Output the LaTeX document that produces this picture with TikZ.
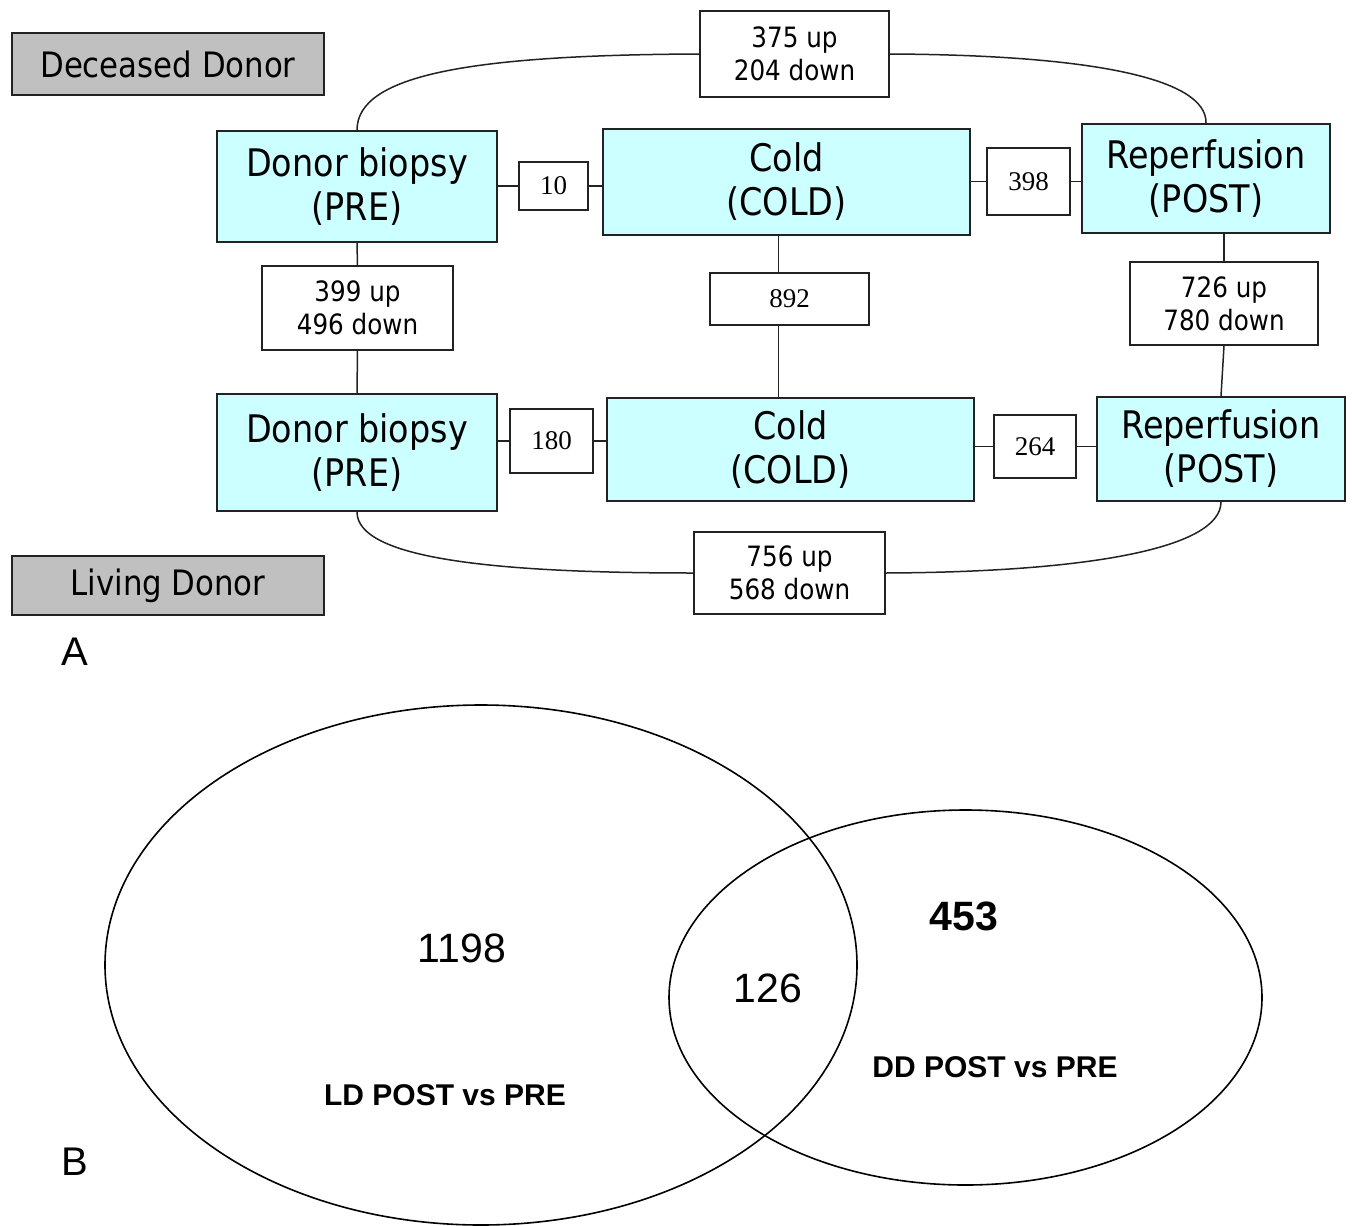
\documentclass[tikz,border=0pt]{standalone}
\usepackage{fontspec}
\newfontfamily\tah{DejaVu Sans}[FakeStretch=0.88]
\newfontfamily\ser{Liberation Serif}
\newfontfamily\ari{Liberation Sans}
\definecolor{cyanbox}{HTML}{CCFFFF}
\definecolor{graybox}{HTML}{C0C0C0}
\definecolor{edge}{HTML}{222222}
\tikzset{
  stage/.style={draw=edge, line width=1.8pt, fill=cyanbox, inner sep=0pt, align=center,
    font=\tah\fontsize{38}{44}\selectfont},
  donor/.style={draw=edge, line width=1.8pt, fill=graybox, inner sep=0pt, align=center,
    font=\tah\fontsize{35}{38}\selectfont},
  countbox/.style={draw=edge, line width=1.6pt, fill=white, inner sep=0pt, align=center,
    font=\tah\fontsize{28}{33}\selectfont},
  numbox/.style={draw=edge, line width=1.6pt, fill=white, inner sep=0pt, align=center,
    font=\ser\fontsize{27}{30}\selectfont},
  conn/.style={draw=edge, line width=1.5pt},
  venn/.style={draw=black, line width=1.6pt},
  vtext/.style={font=\ari\fontsize{41}{44}\selectfont, inner sep=0pt},
  vlabel/.style={font=\ari\bfseries\fontsize{30}{32}\selectfont, inner sep=0pt},
  panel/.style={font=\ari\fontsize{40}{44}\selectfont, inner sep=0pt}
}
\begin{document}
\begin{tikzpicture}[x=1pt,y=-1pt]
\useasboundingbox (0,0) rectangle (1352,1226);
% donor labels
\node[donor, minimum width=312, minimum height=62] (dd) at (168,64) {Deceased Donor};
\node[donor, minimum width=312, minimum height=59] (ld) at (168,585.5) {Living Donor};
\node[panel] (pa) at (75,652) {A};
\node[panel] (pb) at (75,1162) {B};
% top row (deceased donor)
\node[stage, minimum width=280, minimum height=111] (dd1) at (357,186.5) {Donor biopsy\\(PRE)};
\node[stage, minimum width=367, minimum height=106] (cold1) at (786.5,182) {Cold\\(COLD)};
\node[stage, minimum width=248, minimum height=109] (rep1) at (1206,178.5) {Reperfusion\\(POST)};
\node[numbox, minimum width=69, minimum height=48] (n10) at (553.5,186) {10};
\node[numbox, minimum width=83, minimum height=67] (n398) at (1028.5,181.5) {398};
\node[countbox, minimum width=189, minimum height=86] (top) at (794.5,54) {375 up\\204 down};
% bottom row (living donor)
\node[stage, minimum width=280, minimum height=117] (dd2) at (357,452.5) {Donor biopsy\\(PRE)};
\node[stage, minimum width=367, minimum height=103] (cold2) at (790.5,449.5) {Cold\\(COLD)};
\node[stage, minimum width=248, minimum height=104] (rep2) at (1221,449) {Reperfusion\\(POST)};
\node[numbox, minimum width=83, minimum height=64] (n180) at (551.5,441) {180};
\node[numbox, minimum width=82, minimum height=63] (n264) at (1035,446.5) {264};
\node[countbox, minimum width=191, minimum height=82] (bot) at (789.5,573) {756 up\\568 down};
% middle count boxes
\node[countbox, minimum width=191, minimum height=84] (n399) at (357.5,308) {399 up\\496 down};
\node[numbox, minimum width=159, minimum height=52] (n892) at (789.5,299) {892};
\node[countbox, minimum width=188, minimum height=83] (n726) at (1224,303.5) {726 up\\780 down};
% horizontal connectors
\draw[conn] (n10.west -| dd1.east) -- (n10.west);
\draw[conn] (n10.east) -- (n10.east -| cold1.west);
\draw[conn] (n398.west -| cold1.east) -- (n398.west);
\draw[conn] (n398.east) -- (n398.east -| rep1.west);
\draw[conn] (n180.west -| dd2.east) -- (n180.west);
\draw[conn] (n180.east) -- (n180.east -| cold2.west);
\draw[conn] (n264.west -| cold2.east) -- (n264.west);
\draw[conn] (n264.east) -- (n264.east -| rep2.west);
% vertical connectors
\draw[conn] (dd1.south) -- (n399.north);
\draw[conn] (n399.south) -- (dd2.north);
\draw[conn, line width=1pt] ([xshift=-11pt]n892.north |- cold1.south) -- ([xshift=-11pt]n892.north);
\draw[conn] ([xshift=-11pt]n892.south) -- ([xshift=-11pt]n892.south |- cold2.north);
\draw[conn] (rep1.south -| n726.north) -- (n726.north);
\draw[conn] (n726.south) -- (rep2.north);
% curved connectors
\draw[conn] (dd1.north) .. controls (357,75) and (470,55) .. (top.west);
\draw[conn] (top.east) .. controls (1090,55) and (1207,78) .. (rep1.north);
\draw[conn] (dd2.south) .. controls (357,558) and (490,573) .. (bot.west);
\draw[conn] (bot.east) .. controls (1090,572) and (1221,548) .. (rep2.south);
% Venn diagram
\draw[venn] (481,965) ellipse [x radius=376, y radius=260];
\draw[venn] (965.5,997.5) ellipse [x radius=296.5, y radius=187.5];
\node[vtext] (v1) at (462,948) {1198};
\node[vtext] (v2) at (768,988) {126};
\node[vtext, font=\ari\bfseries\fontsize{41}{44}\selectfont] (v3) at (964,916) {453};
\node[vlabel] (l1) at (445,1095) {LD POST vs PRE};
\node[vlabel] (l2) at (995,1067) {DD POST vs PRE};
\end{tikzpicture}
\end{document}
